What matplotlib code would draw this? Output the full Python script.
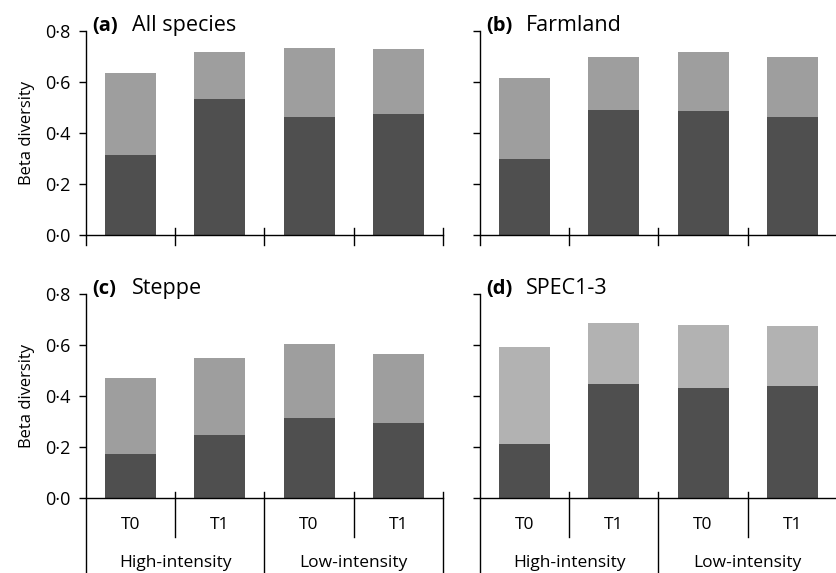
import matplotlib
matplotlib.use("Agg")
import matplotlib.pyplot as plt
from matplotlib.ticker import FixedLocator, FuncFormatter

plt.rcParams['font.family'] = ['Open Sans', 'DejaVu Sans']

periods = ['T0', 'T1', 'T0', 'T1']
intensity = ['High-intensity', 'Low-intensity']

titles = ['(a)', '(b)', '(c)', '(d)']
names = ['All species', 'Farmland', 'Steppe', 'SPEC1-3']

# dark lower part and total height of each stacked bar
dark_a = [0.312, 0.533, 0.464, 0.474]
total_a = [0.635, 0.719, 0.735, 0.728]
dark_b = [0.300, 0.490, 0.487, 0.464]
total_b = [0.614, 0.697, 0.716, 0.699]
dark_c = [0.174, 0.248, 0.315, 0.294]
total_c = [0.472, 0.550, 0.603, 0.566]
dark_d = [0.213, 0.448, 0.431, 0.440]
total_d = [0.592, 0.688, 0.680, 0.676]

darks = [dark_a, dark_b, dark_c, dark_d]
totals = [total_a, total_b, total_c, total_d]
light_colors = ['#9e9e9e', '#9e9e9e', '#9e9e9e', '#b2b2b2']
DARK = '#4f4f4f'
TICK_SIZE = 13
LABEL_SIZE = 12.5
TITLE_SIZE = 15.5

W, H = 837, 573
fig = plt.figure(figsize=(W / 100, H / 100), dpi=100)

lefts = [86, 480, 86, 480]
zeros = [235, 235, 498, 498]
aw, ah = 357, 204

x = list(range(4))
for i in range(4):
    ax = fig.add_axes([lefts[i] / W, (H - zeros[i]) / H, aw / W, ah / H])
    top = [t - d for t, d in zip(totals[i], darks[i])]
    ax.bar(x, darks[i], width=0.57, color=DARK, edgecolor='none')
    ax.bar(x, top, bottom=darks[i], width=0.57, color=light_colors[i], edgecolor='none')
    ax.set_xlim(-0.5, 3.5)
    ax.set_ylim(0, 0.8)
    for s in ['top', 'right', 'left']:
        ax.spines[s].set_visible(False)
    ax.spines['bottom'].set_linewidth(1.0)
    ax.set_xticks([])
    ax.yaxis.set_major_locator(FixedLocator([0, 0.2, 0.4, 0.6, 0.8]))
    if i % 2 == 0:
        ax.yaxis.set_major_formatter(FuncFormatter(lambda v, p: ('%.1f' % v).replace('.', '\u00b7')))
        ax.set_ylabel('Beta diversity', fontsize=12, labelpad=7)
    else:
        ax.set_yticklabels([])
    ax.tick_params(axis='y', length=5, width=1, labelsize=TICK_SIZE, pad=6)

    tr = ax.get_xaxis_transform()
    lw = 1.0
    if i < 2:
        # y axis line running a little below zero
        ax.plot([-0.5, -0.5], [1.0, -10 / ah], transform=tr, color='black', lw=lw, clip_on=False)
        for b in [0.5, 1.5, 2.5, 3.5]:
            ax.plot([b, b], [7 / ah, -10 / ah], transform=tr, color='black', lw=lw, clip_on=False)
    else:
        ax.plot([-0.5, -0.5], [1.0, -0.5], transform=tr, color='black', lw=lw, clip_on=False)
        for b in [0.5, 2.5]:
            ax.plot([b, b], [6 / ah, -39 / ah], transform=tr, color='black', lw=lw, clip_on=False)
        for b in [1.5, 3.5]:
            ax.plot([b, b], [6 / ah, -0.5], transform=tr, color='black', lw=lw, clip_on=False)
        for xi, lab in zip(x, periods):
            ax.text(xi, -27 / ah, lab, transform=tr, ha='center', va='center', fontsize=LABEL_SIZE)
        for k, lab in enumerate(intensity):
            ax.text(2 * k + 0.5, -65 / ah, lab, transform=tr, ha='center', va='center', fontsize=LABEL_SIZE)

    ax.text(0.017, 1.025, titles[i], transform=ax.transAxes, fontsize=TITLE_SIZE - 1, fontweight='bold',
            ha='left', va='center')
    ax.text(0.129, 1.025, names[i], transform=ax.transAxes, fontsize=TITLE_SIZE,
            ha='left', va='center')

plt.savefig('out.png', dpi=100)
